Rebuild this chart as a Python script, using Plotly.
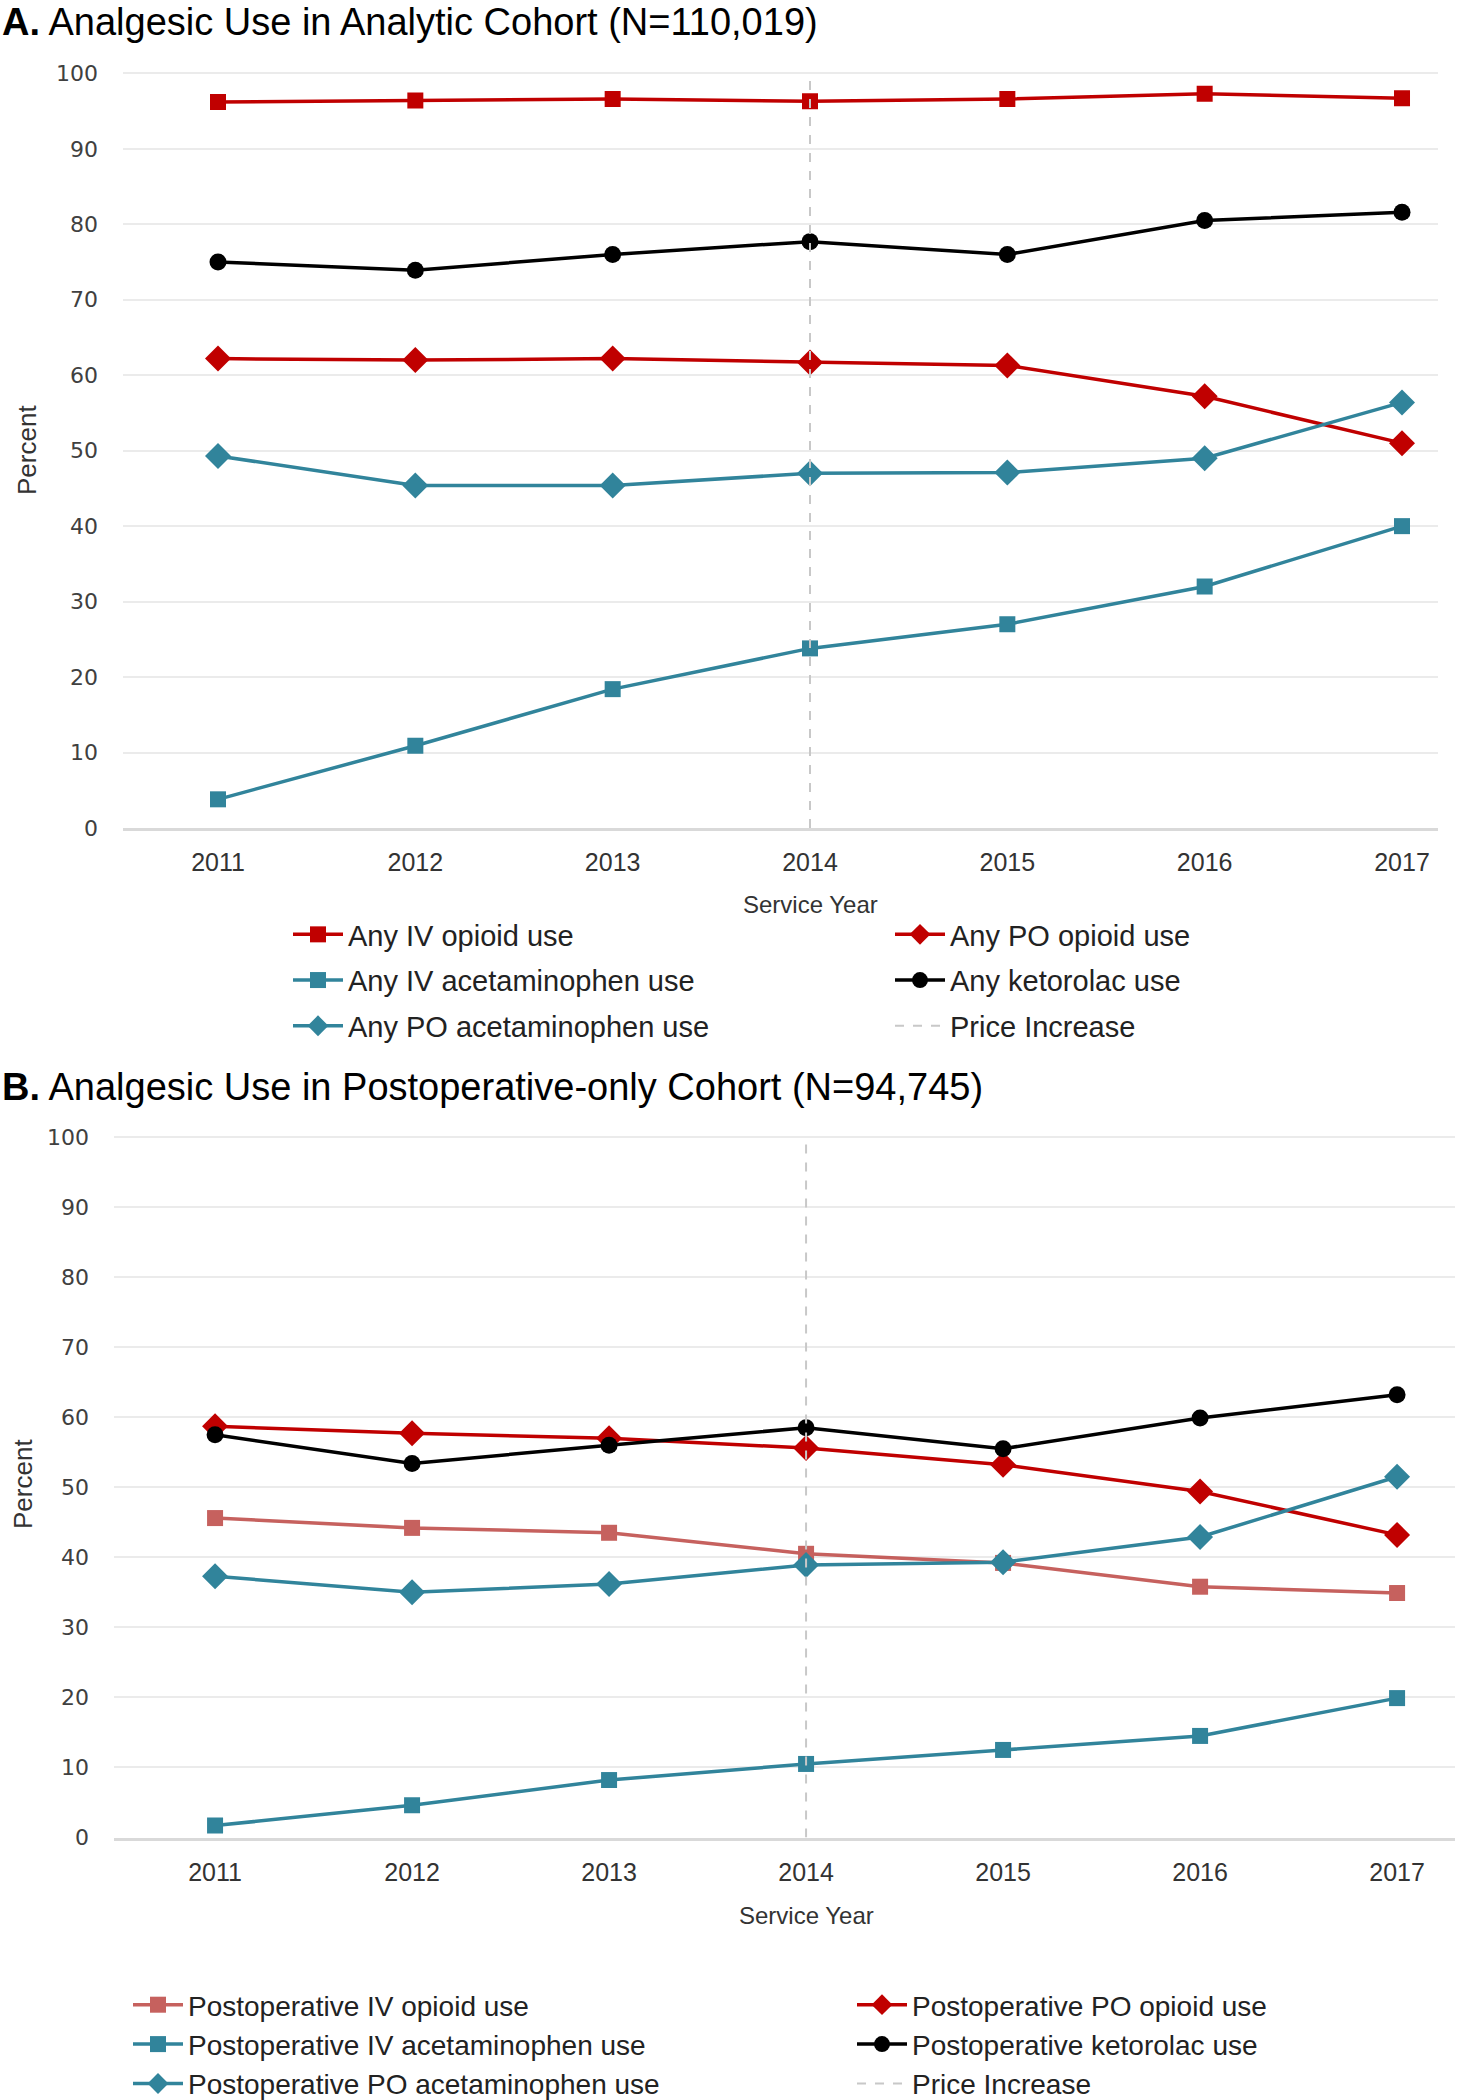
import plotly.graph_objects as go

# ---------------- data ----------------
years = [2011, 2012, 2013, 2014, 2015, 2016, 2017]
price_increase_year = 2014
y_ticks = [0, 10, 20, 30, 40, 50, 60, 70, 80, 90, 100]

# Panel A: Analytic cohort
a_iv_opioid = [96.2, 96.4, 96.6, 96.3, 96.6, 97.3, 96.7]
a_po_opioid = [62.2, 62.0, 62.2, 61.7, 61.3, 57.2, 51.0]
a_iv_acet = [3.8, 10.9, 18.4, 23.8, 27.0, 32.0, 40.0]
a_ketorolac = [75.0, 73.9, 76.0, 77.7, 76.0, 80.5, 81.6]
a_po_acet = [49.3, 45.4, 45.4, 47.0, 47.1, 49.0, 56.4]

# Panel B: Postoperative-only cohort
b_iv_opioid = [45.6, 44.2, 43.5, 40.5, 39.2, 35.8, 34.9]
b_po_opioid = [58.7, 57.7, 57.0, 55.6, 53.2, 49.4, 43.2]
b_iv_acet = [1.7, 4.6, 8.2, 10.5, 12.5, 14.5, 19.9]
b_ketorolac = [57.5, 53.4, 56.0, 58.5, 55.5, 59.9, 63.2]
b_po_acet = [37.3, 35.0, 36.2, 38.9, 39.3, 42.9, 51.5]

title_a = "<b>A.</b> Analgesic Use in Analytic Cohort (N=110,019)"
title_b = "<b>B.</b> Analgesic Use in Postoperative-only Cohort (N=94,745)"

# ---------------- styles ----------------
RED = "#C00000"
LRED = "#C0504D"
TEAL = "#31849B"
BLACK = "#000000"
GRAY_DASH = "#C8C8C8"
W, H = 1460, 2100
SANS = "Liberation Sans, Arial, sans-serif"
LW = 3.5
ITEMW = 50
SQ, DM, CI = 16, 20, 17

fig = go.Figure()


def add_series(name, ys, color, symbol, size, xa, ya, leg, opacity=1.0):
    fig.add_trace(go.Scatter(
        x=years, y=ys, name=name, mode="lines+markers",
        line=dict(color=color, width=LW),
        marker=dict(symbol=symbol, size=size, color=color),
        opacity=opacity, legendgroup=name,
        xaxis=xa, yaxis=ya, legend=leg,
    ))


def add_price_line(xa, ya, leg):
    fig.add_trace(go.Scatter(
        x=[price_increase_year, price_increase_year], y=[y_ticks[0], y_ticks[-1]],
        name="Price Increase", mode="lines", legendgroup="Price Increase " + leg,
        line=dict(color=GRAY_DASH, width=2, dash="dash"),
        xaxis=xa, yaxis=ya, legend=leg,
    ))


# Panel A traces: left legend column = legend, right column = legend2
add_series("Any IV opioid use", a_iv_opioid, RED, "square", SQ, "x", "y", "legend")
add_series("Any PO opioid use", a_po_opioid, RED, "diamond", DM, "x", "y", "legend2")
add_series("Any IV acetaminophen use", a_iv_acet, TEAL, "square", SQ, "x", "y", "legend")
add_series("Any ketorolac use", a_ketorolac, BLACK, "circle", CI, "x", "y", "legend2")
add_series("Any PO acetaminophen use", a_po_acet, TEAL, "diamond", DM, "x", "y", "legend")
add_price_line("x", "y", "legend2")

# Panel B traces: left legend column = legend3, right column = legend4
add_series("Postoperative IV opioid use", b_iv_opioid, LRED, "square", SQ, "x2", "y2", "legend3", opacity=0.9)
add_series("Postoperative PO opioid use", b_po_opioid, RED, "diamond", DM, "x2", "y2", "legend4")
add_series("Postoperative IV acetaminophen use", b_iv_acet, TEAL, "square", SQ, "x2", "y2", "legend3")
add_series("Postoperative ketorolac use", b_ketorolac, BLACK, "circle", CI, "x2", "y2", "legend4")
add_series("Postoperative PO acetaminophen use", b_po_acet, TEAL, "diamond", DM, "x2", "y2", "legend3")
add_price_line("x2", "y2", "legend4")


def py(px):
    return 1 - px / H


def pxx(px):
    return px / W


xcommon = dict(
    tickmode="array", tickvals=years, ticktext=[str(y) for y in years],
    showgrid=False, zeroline=False, showline=True, linecolor="#D9D9D9", linewidth=3,
    ticks="", tickfont=dict(family=SANS, size=25, color="#333333"),
    ticklabelstandoff=10,
)
ycommon = dict(
    tickmode="array", tickvals=y_ticks, range=[0, 101],
    showgrid=True, gridcolor="#EBEBEB", gridwidth=2, zeroline=False, showline=False,
    ticks="", tickfont=dict(family="DejaVu Sans", size=22, color="#404040"),
    ticklabelstandoff=24,
)


def legend_box(x_text, y_top, size, gap):
    return dict(
        orientation="v", x=pxx(x_text - (ITEMW + 10)), xanchor="left", y=py(y_top), yanchor="top",
        font=dict(family=SANS, size=size, color="#222222"),
        bgcolor="rgba(0,0,0,0)", borderwidth=0, itemwidth=ITEMW,
        traceorder="grouped", tracegroupgap=gap,
    )


fig.update_layout(
    width=W, height=H,
    margin=dict(l=0, r=0, t=0, b=0, autoexpand=False),
    paper_bgcolor="white", plot_bgcolor="white",
    showlegend=True,
    xaxis=dict(domain=[pxx(123), pxx(1438)], range=[2010.5186, 2017.1824], anchor="y", **xcommon),
    yaxis=dict(domain=[py(828), py(65.8)], anchor="x", **ycommon),
    xaxis2=dict(domain=[pxx(114), pxx(1455)], range=[2010.487, 2017.294], anchor="y2", **xcommon),
    yaxis2=dict(domain=[py(1837.5), py(1130)], anchor="x2", **ycommon),
    legend=legend_box(348, 909, 29, 5),
    legend2=legend_box(950, 909, 29, 5),
    legend3=legend_box(188, 1980, 28, 0),
    legend4=legend_box(912, 1980, 28, 0),
    annotations=[
        dict(text=title_a, xref="paper", yref="paper", x=0, y=py(22), xanchor="left", yanchor="middle",
             showarrow=False, font=dict(family=SANS, size=38, color="#000000")),
        dict(text=title_b, xref="paper", yref="paper", x=0, y=py(1087), xanchor="left", yanchor="middle",
             showarrow=False, font=dict(family=SANS, size=38, color="#000000")),
        dict(text="Service Year", xref="x", yref="paper", x=price_increase_year, y=py(904),
             xanchor="center", yanchor="middle", showarrow=False,
             font=dict(family=SANS, size=24, color="#333333")),
        dict(text="Service Year", xref="x2", yref="paper", x=price_increase_year, y=py(1915),
             xanchor="center", yanchor="middle", showarrow=False,
             font=dict(family=SANS, size=24, color="#333333")),
        dict(text="Percent", xref="paper", yref="paper", x=pxx(27), y=py(450), textangle=-90,
             xanchor="center", yanchor="middle", showarrow=False,
             font=dict(family=SANS, size=26, color="#333333")),
        dict(text="Percent", xref="paper", yref="paper", x=pxx(23), y=py(1484), textangle=-90,
             xanchor="center", yanchor="middle", showarrow=False,
             font=dict(family=SANS, size=26, color="#333333")),
    ],
)

fig.write_html("out.html", config={"displayModeBar": False},
               post_script="document.body.style.margin='0px';")
